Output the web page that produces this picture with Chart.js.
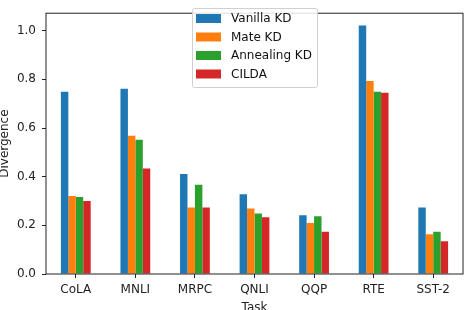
<!DOCTYPE html>
<html>
<head>
<meta charset="utf-8">
<script src="https://cdn.jsdelivr.net/npm/chart.js@4"></script>
<style>
  html, body { margin: 0; padding: 0; background: #fff; }
  #wrap { width: 466px; height: 310px; }
</style>
</head>
<body>
<div id="wrap"><canvas id="chart" width="466" height="310"></canvas></div>
<script>
const tasks = ['CoLA', 'MNLI', 'MRPC', 'QNLI', 'QQP', 'RTE', 'SST-2'];
const vanillaKD = [0.749, 0.761, 0.411, 0.328, 0.241, 1.021, 0.273];
const mateKD = [0.321, 0.568, 0.273, 0.269, 0.210, 0.793, 0.163];
const annealingKD = [0.316, 0.552, 0.367, 0.249, 0.237, 0.749, 0.174];
const cilda = [0.300, 0.434, 0.273, 0.233, 0.174, 0.745, 0.135];
const yTicks = [0.0, 0.2, 0.4, 0.6, 0.8, 1.0];

const FONT = 'DejaVu Sans';
const INK = '#222';

// box around the plot, like matplotlib spines
const framePlugin = {
  id: 'frame',
  afterDatasetsDraw(chart) {
    const { ctx, chartArea: a } = chart;
    ctx.save();
    ctx.strokeStyle = INK;
    ctx.lineWidth = 1;
    ctx.strokeRect(a.left, a.top, a.right - a.left, a.bottom - a.top);
    ctx.restore();
  }
};

// legend box drawn inside the plot
const boxLegend = {
  id: 'boxLegend',
  afterDraw(chart) {
    const ctx = chart.ctx;
    const x = 192, y = 8, w = 125, h = 79;
    ctx.save();
    ctx.fillStyle = 'rgba(255,255,255,0.85)';
    ctx.strokeStyle = '#d0d0d0';
    ctx.lineWidth = 1;
    ctx.beginPath();
    ctx.roundRect(x + 0.5, y + 0.5, w, h, 2);
    ctx.fill();
    ctx.stroke();
    ctx.font = '12px "' + FONT + '"';
    ctx.textBaseline = 'middle';
    chart.data.datasets.forEach((ds, i) => {
      const cy = y + 10.5 + i * 18.5;
      ctx.fillStyle = ds.backgroundColor;
      ctx.fillRect(x + 4, cy - 4.5, 25, 9);
      ctx.fillStyle = '#111';
      ctx.fillText(ds.label, x + 39, cy + 0.5);
    });
    ctx.restore();
  }
};

new Chart(document.getElementById('chart'), {
  type: 'bar',
  data: {
    labels: tasks,
    datasets: [
      { label: 'Vanilla KD', data: vanillaKD, backgroundColor: '#1f77b4' },
      { label: 'Mate KD', data: mateKD, backgroundColor: '#ff7f0e' },
      { label: 'Annealing KD', data: annealingKD, backgroundColor: '#2ca02c' },
      { label: 'CILDA', data: cilda, backgroundColor: '#d62728' }
    ]
  },
  options: {
    responsive: false,
    animation: false,
    devicePixelRatio: 1,
    layout: { padding: { top: 2, right: 3, left: 0, bottom: 0 } },
    datasets: { bar: { categoryPercentage: 0.5, barPercentage: 1.0, borderWidth: 0 } },
    plugins: { legend: { display: false }, tooltip: { enabled: false } },
    scales: {
      x: {
        grid: { display: true, drawOnChartArea: false, drawTicks: true, tickLength: 4, tickColor: INK, offset: false },
        border: { display: false },
        ticks: { color: INK, font: { family: FONT, size: 12 }, padding: 5, maxRotation: 0 },
        title: { display: true, text: 'Task', color: INK, font: { family: FONT, size: 12 }, padding: { top: 0, bottom: -5 } },
        afterFit(scale) { scale.height = 36; }
      },
      y: {
        min: 0,
        max: 1.072,
        grid: { display: true, drawOnChartArea: false, drawTicks: true, tickLength: 4, tickColor: INK },
        border: { display: false },
        ticks: {
          color: INK,
          font: { family: FONT, size: 12 },
          padding: 6,
          callback: v => v.toFixed(1)
        },
        afterBuildTicks(scale) { scale.ticks = yTicks.map(v => ({ value: v })); },
        title: { display: true, text: 'Divergence', color: INK, font: { family: FONT, size: 12 }, padding: { top: -2, bottom: 0 } },
        afterFit(scale) { scale.width = 46; }
      }
    }
  },
  plugins: [framePlugin, boxLegend]
});
</script>
</body>
</html>
